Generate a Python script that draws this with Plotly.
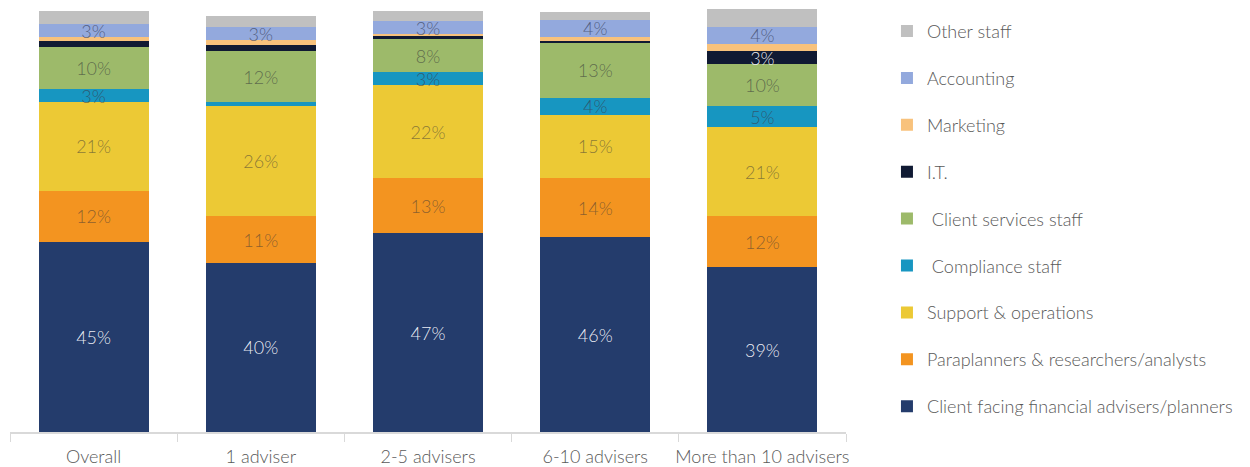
import plotly.graph_objects as go

categories = ["Overall", "1 adviser", "2-5 advisers", "6-10 advisers", "More than 10 advisers"]

# Staff mix by practice size (% of staff), bottom of stack first
client_facing = [45, 40, 47, 46, 39]
paraplanners = [12, 11, 13, 14, 12]
support_ops = [21, 26, 22, 15, 21]
compliance = [3, 1, 3, 4, 5]
client_services = [10, 12, 8, 13, 10]
it_staff = [1.4, 1.4, 0.6, 0.4, 3]
marketing = [1.0, 1.3, 0.5, 1.0, 1.8]
accounting = [3, 3, 3, 4, 4]
other_staff = [3.1, 2.7, 2.4, 2.0, 4.1]

series = [
    ("Client facing financial advisers/planners", client_facing, "#243c6c", "rgba(240,242,248,0.97)", True),
    ("Paraplanners & researchers/analysts", paraplanners, "#f39420", "rgba(70,60,55,0.6)", True),
    ("Support & operations", support_ops, "#ecc935", "rgba(70,65,55,0.6)", True),
    (" Compliance staff", compliance, "#1796c1", "rgba(55,65,80,0.7)", True),
    (" Client services staff", client_services, "#9dba6a", "rgba(60,65,60,0.65)", True),
    ("I.T.", it_staff, "#101a33", "rgba(240,240,245,0.97)", True),
    ("Marketing", marketing, "#f8c27c", "#555555", False),
    ("Accounting", accounting, "#93a9dd", "rgba(60,70,100,0.75)", True),
    ("Other staff", other_staff, "#c0c0c0", "#555555", False),
]

fig = go.Figure()
n = len(series)
for i, (name, vals, color, tcolor, labelled) in enumerate(series):
    texts = [f"{v:.0f}%" if labelled and v >= 2.5 else "" for v in vals]
    fig.add_trace(go.Bar(
        name=name,
        x=categories,
        y=vals,
        marker=dict(color=color, line=dict(width=0)),
        text=texts,
        texttemplate="%{text}",
        textposition="inside",
        insidetextanchor="middle",
        textangle=0,
        textfont=dict(family="Lato", size=18, weight=300, color=tcolor),
        legendgroup=f"g{i}",
        legendrank=n - i,
        hoverinfo="skip",
    ))

fig.update_layout(
    barmode="stack",
    bargap=0.342,
    width=1250,
    height=467,
    margin=dict(l=10, r=404, t=9, b=35, autoexpand=False),
    paper_bgcolor="white",
    plot_bgcolor="white",
    font=dict(family="Lato", size=18, weight=300, color="#595959"),
    uniformtext=dict(minsize=18, mode="show"),
    legend=dict(
        traceorder="grouped",
        x=1.049,
        xanchor="left",
        y=0.991,
        yanchor="top",
        tracegroupgap=20.5,
        maxheight=460,
        font=dict(family="Lato", size=18, weight=300, color="#595959"),
        itemclick=False,
    ),
    showlegend=True,
)

fig.update_xaxes(
    type="category",
    automargin=False,
    showline=True,
    linecolor="#d9d9d9",
    linewidth=1.5,
    ticks="outside",
    tickson="boundaries",
    ticklen=8,
    tickcolor="#d9d9d9",
    tickangle=0,
    ticklabelstandoff=8,
    tickfont=dict(family="Lato", size=18, weight=300, color="#595959"),
    showgrid=False,
)
fig.update_yaxes(
    range=[0, 100],
    visible=False,
    showgrid=False,
)

fig.write_html("out.html")
